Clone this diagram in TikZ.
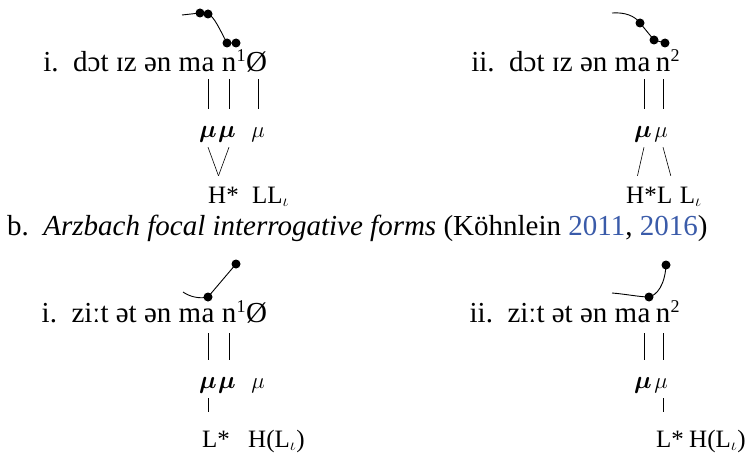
\documentclass[tikz,border=0pt]{standalone}
\usepackage{fontspec}
\setmainfont{Liberation Serif}
\usepackage{bm}
\usepackage{graphicx}
\definecolor{cblue}{HTML}{3A5BA9}
\newcommand{\bigtxt}{\fontsize{29}{34}\selectfont}
\newcommand{\tonetxt}{\fontsize{25}{30}\selectfont}
\newcommand{\mutxt}{\fontsize{20.74}{25}\selectfont}
\newcommand{\suptxt}{\fontsize{18}{21}\selectfont}
\newcommand{\bmu}{\scalebox{1.2}{$\bm{\mu}$}}
\newcommand{\nmu}{\scalebox{1.1}{$\mu$}}
\begin{document}
\begin{tikzpicture}[x=1pt,y=-1pt,
  seg/.style={inner sep=0pt, font=\bigtxt, anchor=base, text height=17pt, text depth=7pt},
  supnode/.style={inner sep=0pt, font=\suptxt, anchor=base west},
  mu/.style={inner sep=0pt, font=\mutxt, anchor=base, text height=28pt, text depth=10pt},
  tone/.style={inner sep=0pt, font=\tonetxt, anchor=base west, text height=27pt, text depth=6pt},
  assoc/.style={line width=0.6pt},
  contour/.style={line width=0.9pt},
  tdot/.style={radius=4.5pt}]
\useasboundingbox (0,0) rectangle (753,460);

% ---------- a.i ----------
\node[seg] (a1) at (208,72) {a};
\node[seg, anchor=base east] (pre1) at (a1.base west) {i.\ \ dɔt ɪz ən m};
\node[seg] (n1) at (229,72) {n};
\node[supnode] (s1) at ([yshift=10pt]n1.base east) {1};
\node[seg, anchor=base west] (z1) at (s1.base east |- n1.base) {Ø};
\node[mu] (m1a) at (208,137) {\bmu};
\node[mu] (m1b) at (227,137) {\bmu};
\node[mu] (m1c) at (258,137) {\nmu};
\node[tone] (t1a) at (208,203) {H*};
\node[tone] (t1b) at (252,203) {LL$_\iota$};
\draw[assoc] (a1.south) -- (a1.south |- m1a.north);
\draw[assoc] (m1b.north -| n1.south) -- (n1.south);
\draw[assoc] (m1c.north) -- (m1c.north |- z1.south);
\draw[assoc] (m1a.south -| a1.south) -- ([xshift=-5pt]t1a.north);
\draw[assoc] (m1b.south -| n1.south) -- ([xshift=-5pt]t1a.north);
\draw[contour] (182,15) -- (200,13) -- (208,14) .. controls (214,16) and (220,30) .. (227,43) -- (236,43);
\fill[tdot] (200,13) circle;
\fill[tdot] (208,14) circle;
\fill[tdot] (227,43) circle;
\fill[tdot] (236,43) circle;

% ---------- a.ii ----------
\node[seg] (a2) at (644,72) {a};
\node[seg, anchor=base east] (pre2) at (a2.base west) {ii.\ \ dɔt ɪz ən m};
\node[seg] (n2) at (663,72) {n};
\node[supnode] (s2) at ([yshift=10pt]n2.base east) {2};
\node[mu] (m2a) at (643,137) {\bmu};
\node[mu] (m2b) at (661,137) {\nmu};
\node[tone] (t2a) at (626,203) {H*};
\node[tone] (t2b) at (t2a.base east) {L};
\node[tone] (t2c) at ([xshift=7pt]t2b.base east) {L$_\iota$};
\draw[assoc] (a2.south) -- (a2.south |- m2a.north);
\draw[assoc] (n2.south) -- (n2.south |- m2b.north);
\draw[assoc] (m2a.south -| a2.south) -- ([xshift=-4pt]t2a.north);
\draw[assoc] (m2b.south -| n2.south) -- ([xshift=6pt]t2b.north);
\draw[contour] (612,13) .. controls (625,12) and (635,16) .. (640,23) -- (654,40) -- (665,43);
\fill[tdot] (640,23) circle;
\fill[tdot] (654,40) circle;
\fill[tdot] (665,43) circle;

% ---------- b header ----------
\node[anchor=base west, inner sep=0pt, font=\bigtxt] (hdr) at (7,235)
  {b.\ \ \textit{Arzbach focal interrogative forms} (Köhnlein \textcolor{cblue}{2011}, \textcolor{cblue}{2016})};

% ---------- b.i ----------
\node[seg] (a3) at (208,322) {a};
\node[seg, anchor=base east] (pre3) at (a3.base west) {i.\ \ ziːt ət ən m};
\node[seg] (n3) at (229,322) {n};
\node[supnode] (s3) at ([yshift=10pt]n3.base east) {1};
\node[seg, anchor=base west] (z3) at (s3.base east |- n3.base) {Ø};
\node[mu] (m3a) at (208,388) {\bmu};
\node[mu] (m3b) at (227,388) {\bmu};
\node[mu] (m3c) at (258,388) {\nmu};
\node[tone] (t3a) at (202,447) {L*};
\node[tone] (t3b) at (248,447) {H(L$_\iota$)};
\draw[assoc, shorten <=4pt] (a3.south) -- (a3.south |- m3a.north);
\draw[assoc, shorten <=4pt] (n3.south) -- (n3.south |- m3b.north);
\draw[assoc, shorten >=8pt] (m3a.south -| a3.south) -- (a3.south |- t3a.north);
\draw[contour] (183,292) .. controls (190,297) and (200,299) .. (208,297) -- (236,264);
\fill[tdot] (208,297) circle;
\fill[tdot] (236,264) circle;

% ---------- b.ii ----------
\node[seg] (a4) at (644,322) {a};
\node[seg, anchor=base east] (pre4) at (a4.base west) {ii.\ \ ziːt ət ən m};
\node[seg] (n4) at (663,322) {n};
\node[supnode] (s4) at ([yshift=10pt]n4.base east) {2};
\node[mu] (m4a) at (643,388) {\bmu};
\node[mu] (m4b) at (661,388) {\nmu};
\node[tone] (t4a) at (656,447) {L*};
\node[tone] (t4b) at (689,447) {H(L$_\iota$)};
\draw[assoc, shorten <=4pt] (a4.south) -- (a4.south |- m4a.north);
\draw[assoc, shorten <=4pt] (n4.south) -- (n4.south |- m4b.north);
\draw[assoc, shorten >=8pt] (m4b.south -| n4.south) -- (n4.south |- t4a.north);
\draw[contour] (612,293) .. controls (625,294) and (640,297) .. (649,297) .. controls (657,295) and (665,285) .. (666,265);
\fill[tdot] (649,297) circle;
\fill[tdot] (666,265) circle;
\end{tikzpicture}
\end{document}
